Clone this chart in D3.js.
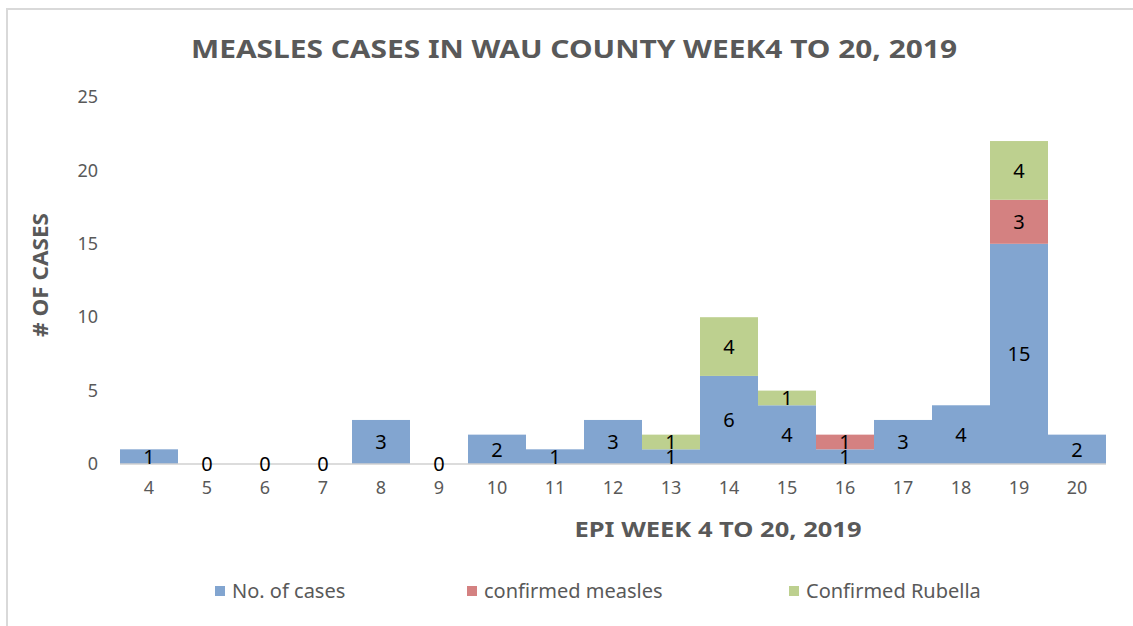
<!DOCTYPE html>
<meta charset="utf-8">
<script src="https://d3js.org/d3.v7.min.js"></script>
<style>
  body { margin: 0; background: #fff; }
  text { font-family: "Noto Sans", "Open Sans", sans-serif; }
</style>
<svg id="chart" width="1133" height="626"></svg>
<script>

  // data
  var weeks = ["4","5","6","7","8","9","10","11","12","13","14","15","16","17","18","19","20"];
  var cases    = [1,0,0,0,3,0,2,1,3,1,6,4,1,3,4,15,2];
  var measles  = [0,0,0,0,0,0,0,0,0,0,0,0,1,0,0,3,0];
  var rubella  = [0,0,0,0,0,0,0,0,0,1,4,1,0,0,0,4,0];
  var seriesNames = ["No. of cases", "confirmed measles", "Confirmed Rubella"];
  var yTicks = [0,5,10,15,20,25];

  var colors = ["#82a5d0", "#d48181", "#bdd08f"];

  var svg = d3.select("#chart");

  // outer frame
  svg.append("rect")
      .attr("x", 7).attr("y", 9)
      .attr("width", 1140).attr("height", 640)
      .attr("fill", "none")
      .attr("stroke", "#d9d9d9")
      .attr("stroke-width", 2);

  var margin = {left: 120, right: 1106, top: 97, bottom: 464};

  var x = d3.scaleBand()
      .domain(weeks)
      .range([margin.left, margin.right])
      .padding(0);

  var y = d3.scaleLinear()
      .domain([0, 25])
      .range([margin.bottom, margin.top]);

  // build the stacked table
  var table = weeks.map(function(w, i) {
    return {week: w, s0: cases[i], s1: measles[i], s2: rubella[i]};
  });
  var stack = d3.stack().keys(["s0","s1","s2"]);
  var layers = stack(table);

  // bars
  svg.append("g")
    .selectAll("g")
    .data(layers)
    .enter().append("g")
      .attr("fill", function(d, i) { return colors[i]; })
    .selectAll("rect")
    .data(function(d) { return d; })
    .enter().append("rect")
      .attr("x", function(d) { return x(d.data.week); })
      .attr("y", function(d) { return y(d[1]); })
      .attr("width", x.bandwidth())
      .attr("height", function(d) { return y(d[0]) - y(d[1]); });

  // baseline
  svg.append("line")
      .attr("x1", margin.left).attr("x2", margin.right)
      .attr("y1", y(0)).attr("y2", y(0))
      .attr("stroke", "#d0d0d0")
      .attr("stroke-width", 1.5);

  // data labels
  var labels = svg.append("g");
  layers.forEach(function(layer, li) {
    layer.forEach(function(d) {
      var v = d[1] - d[0];
      if (v === 0 && li > 0) return;
      labels.append("text")
          .attr("x", x(d.data.week) + x.bandwidth() / 2)
          .attr("y", (y(d[0]) + y(d[1])) / 2)
          .attr("dy", "0.36em")
          .attr("text-anchor", "middle")
          .attr("font-size", 20)
          .attr("fill", "#000")
          .text(v);
    });
  });

  // y axis tick labels
  var yAxis = d3.axisLeft(y).tickValues(yTicks).tickSize(0).tickPadding(0);
  var gy = svg.append("g")
      .attr("transform", "translate(98,0)")
      .call(yAxis);
  gy.select(".domain").remove();
  gy.selectAll("text")
      .attr("font-size", 18)
      .attr("font-family", "Noto Sans, sans-serif")
      .attr("fill", "#595959");

  // x axis tick labels
  var xAxis = d3.axisBottom(x).tickSize(0).tickPadding(0);
  var gx = svg.append("g")
      .attr("transform", "translate(0,481)")
      .call(xAxis);
  gx.select(".domain").remove();
  gx.selectAll("text")
      .attr("font-size", 18)
      .attr("font-family", "Noto Sans, sans-serif")
      .attr("fill", "#595959");

  // title
  svg.append("text")
      .attr("x", 574).attr("y", 58)
      .attr("text-anchor", "middle")
      .attr("font-size", 25)
      .attr("font-weight", "bold")
      .attr("fill", "#595959")
      .attr("textLength", 766)
      .attr("lengthAdjust", "spacingAndGlyphs")
      .text("MEASLES CASES IN WAU COUNTY WEEK4 TO 20, 2019");

  // axis titles
  svg.append("text")
      .attr("transform", "translate(48,275) rotate(-90)")
      .attr("text-anchor", "middle")
      .attr("font-size", 21)
      .attr("font-weight", "bold")
      .attr("fill", "#595959")
      .attr("textLength", 124)
      .attr("lengthAdjust", "spacingAndGlyphs")
      .text("# OF CASES");

  svg.append("text")
      .attr("x", 718).attr("y", 537)
      .attr("text-anchor", "middle")
      .attr("font-size", 21)
      .attr("font-weight", "bold")
      .attr("fill", "#595959")
      .attr("textLength", 287)
      .attr("lengthAdjust", "spacingAndGlyphs")
      .text("EPI WEEK 4 TO 20, 2019");

  // legend
  var legendX = [215, 467, 789];
  var legend = svg.append("g");
  seriesNames.forEach(function(name, i) {
    legend.append("rect")
        .attr("x", legendX[i]).attr("y", 586)
        .attr("width", 10).attr("height", 10)
        .attr("fill", colors[i]);
    legend.append("text")
        .attr("x", legendX[i] + 17).attr("y", 591)
        .attr("dy", "0.36em")
        .attr("font-size", 20)
        .attr("fill", "#595959")
        .text(name);
  });

</script>
